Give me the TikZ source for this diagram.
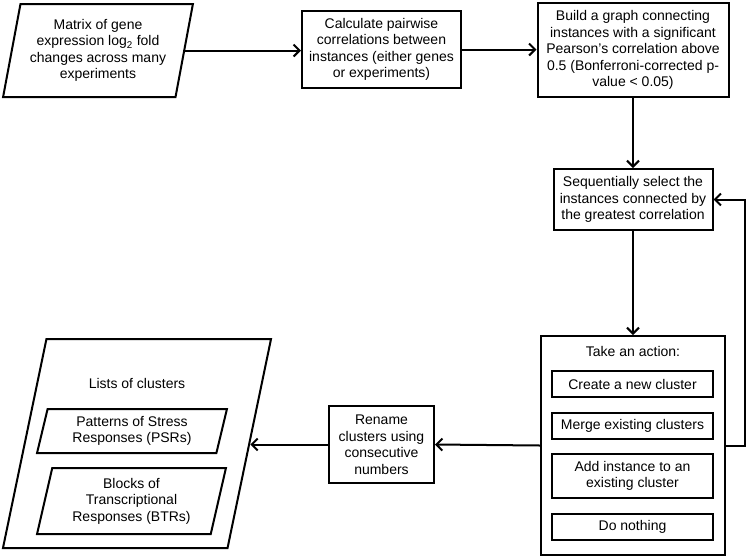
\documentclass[tikz,border=0pt]{standalone}
\usepackage{fontspec}
\setmainfont{Liberation Sans}
\usepackage{tikz}
\usetikzlibrary{arrows.meta, shapes.geometric}
\tikzstyle{proc}=[draw, line width=2pt, align=center, inner sep=2pt]
\tikzstyle{data}=[draw, trapezium, trapezium left angle=76.5, trapezium right angle=103.5, trapezium stretches=true, line width=2pt, align=center, inner sep=1pt]
\tikzstyle{flow}=[line width=2pt, -{Straight Barb[length=6pt, width=12pt]}]

\begin{document}
\begin{tikzpicture}[x=1pt, y=-1pt, font=\fontsize{14}{16.5}\selectfont]
        \useasboundingbox (0,0) rectangle (750,558);

        % Top row
        \node[data, minimum width=190pt, minimum height=93pt] (expr) at (98,50.5) {Matrix of gene\\expression log\textsubscript{2} fold\\changes across many\\experiments};
        \node[proc, minimum width=159pt, minimum height=77pt] (calc) at (381.5,49.5) {Calculate pairwise\\correlations between\\instances (either genes\\or experiments)};
        \node[proc, minimum width=191pt, minimum height=94pt] (build) at (633,50) {Build a graph connecting\\instances with a significant\\Pearson’s correlation above\\0.5 (Bonferroni-corrected p-\\value < 0.05)};

        % Selection step
        \node[proc, minimum width=159pt, minimum height=61pt] (seq) at (633,199.5) {Sequentially select the\\instances connected by\\the greatest correlation};

        % Actions
        \node[proc, minimum width=184pt, minimum height=219pt] (action) at (633,445.5) {};
        \node (actiontitle) at (633,351) {Take an action:};
        \node[proc, minimum width=161pt, minimum height=26pt] (create) at (632.5,384) {Create a new cluster};
        \node[proc, minimum width=161pt, minimum height=26pt] (merge) at (632.5,426) {Merge existing clusters};
        \node[proc, minimum width=161pt, minimum height=44pt] (add) at (632.5,476) {Add instance to an\\existing cluster};
        \node[proc, minimum width=161pt, minimum height=26pt] (nothing) at (632.5,527) {Do nothing};

        % Renaming and output
        \node[proc, minimum width=105pt, minimum height=77pt] (rename) at (381.5,444.5) {Rename\\clusters using\\consecutive\\numbers};
        \node[data, minimum width=268pt, minimum height=209pt] (lists) at (137,443.5) {};
        \node (liststitle) at (137,383) {Lists of clusters};
        \node[data, minimum width=190pt, minimum height=44pt] (psr) at (132,431) {Patterns of Stress\\Responses (PSRs)};
        \node[data, minimum width=189pt, minimum height=66pt] (btr) at (131.5,501) {Blocks of\\Transcriptional\\Responses (BTRs)};

        \coordinate (loop) at (745,0);

        % Arrows
        \draw[flow] (expr.east) -- (expr.east -| calc.west);
        \draw[flow] (calc.east) -- (calc.east -| build.west);
        \draw[flow] (build) -- (seq);
        \draw[flow] (seq) -- (action);
        \draw[flow] (action.east) -- (action.east -| loop) |- (seq.east);
        \draw[flow] (action.west) -- (rename.east);
        \draw[flow] (rename.west) -- (rename.west -| lists.east);
\end{tikzpicture}
\end{document}
